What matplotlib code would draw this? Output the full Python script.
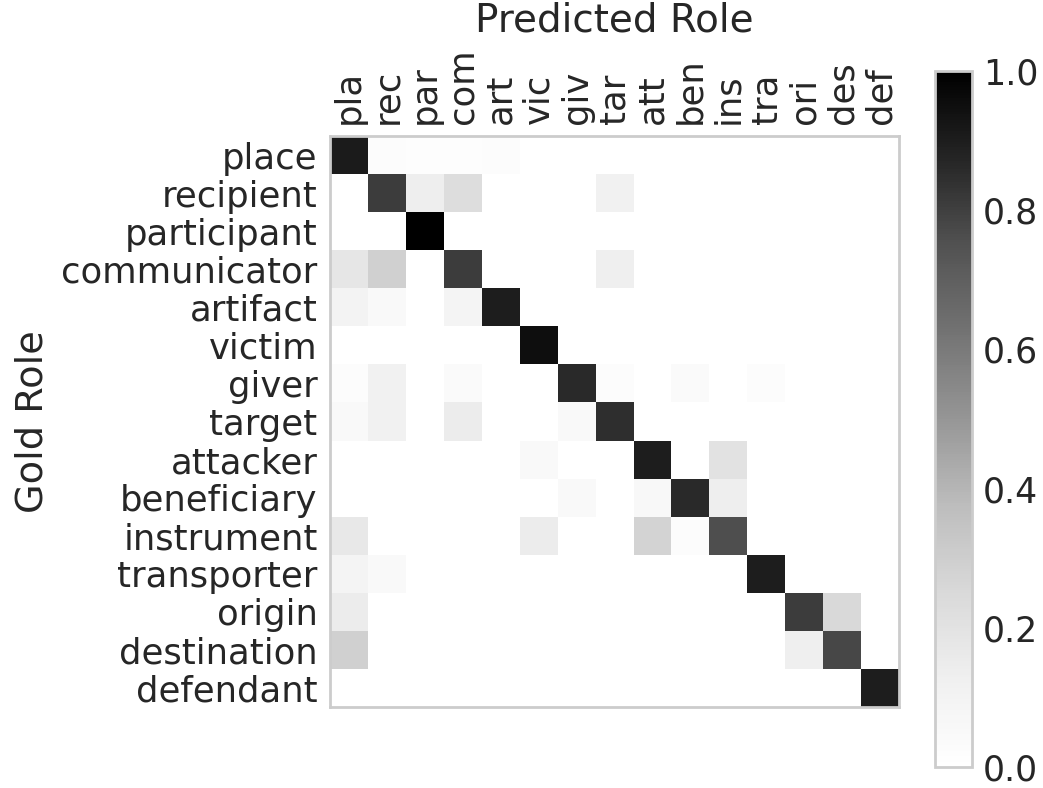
import numpy as np
import matplotlib
matplotlib.use("Agg")
import matplotlib.pyplot as plt

gold_roles = ["place", "recipient", "participant", "communicator", "artifact",
              "victim", "giver", "target", "attacker", "beneficiary",
              "instrument", "transporter", "origin", "destination", "defendant"]
pred_roles = ["pla", "rec", "par", "com", "art", "vic", "giv", "tar", "att",
              "ben", "ins", "tra", "ori", "des", "def"]

# one row per gold role, columns follow pred_roles
place        = [0.91, 0.03, 0.02, 0.02, 0.03, 0, 0, 0, 0, 0, 0, 0, 0, 0, 0]
recipient    = [0, 0.81, 0.14, 0.23, 0, 0, 0, 0.12, 0, 0, 0, 0, 0, 0, 0]
participant  = [0, 0, 1.0, 0, 0, 0, 0, 0, 0, 0, 0, 0, 0, 0, 0]
communicator = [0.18, 0.29, 0, 0.81, 0, 0, 0, 0.13, 0, 0, 0, 0, 0, 0, 0]
artifact     = [0.10, 0.05, 0, 0.09, 0.90, 0, 0, 0, 0, 0, 0, 0, 0, 0, 0]
victim       = [0, 0, 0, 0, 0, 0.95, 0, 0, 0, 0, 0, 0, 0, 0, 0]
giver        = [0.03, 0.12, 0, 0.04, 0, 0, 0.86, 0.03, 0, 0.04, 0, 0.03, 0, 0, 0]
target       = [0.05, 0.12, 0, 0.15, 0, 0, 0.05, 0.85, 0, 0, 0, 0, 0, 0, 0]
attacker     = [0, 0, 0, 0, 0, 0.05, 0, 0, 0.90, 0, 0.20, 0, 0, 0, 0]
beneficiary  = [0, 0, 0, 0, 0, 0, 0.05, 0, 0.06, 0.86, 0.14, 0, 0, 0, 0]
instrument   = [0.17, 0, 0, 0, 0, 0.15, 0, 0, 0.28, 0.03, 0.76, 0, 0, 0, 0]
transporter  = [0.09, 0.05, 0, 0, 0, 0, 0, 0, 0, 0, 0, 0.90, 0, 0, 0]
origin       = [0.15, 0, 0, 0, 0, 0, 0, 0, 0, 0, 0, 0, 0.81, 0.25, 0]
destination  = [0.29, 0, 0, 0, 0, 0, 0, 0, 0, 0, 0, 0, 0.13, 0.78, 0]
defendant    = [0, 0, 0, 0, 0, 0, 0, 0, 0, 0, 0, 0, 0, 0, 0.90]

matrix = np.array([place, recipient, participant, communicator, artifact,
                   victim, giver, target, attacker, beneficiary, instrument,
                   transporter, origin, destination, defendant])

text_color = "#262626"
plt.rcParams["font.family"] = ["DejaVu Sans"]

fig = plt.figure(figsize=(10.43, 7.88), dpi=100)
ax = fig.add_axes([0.3164, 0.1028, 0.5456, 0.7246])
cax = fig.add_axes([0.8965, 0.0267, 0.0355, 0.8832])

mesh = ax.pcolormesh(matrix, cmap="Greys", vmin=0, vmax=1)
ax.set_xlim(0, len(pred_roles))
ax.set_ylim(len(gold_roles), 0)

ax.xaxis.tick_top()
ax.xaxis.set_label_position("top")
ax.set_xticks(np.arange(len(pred_roles)) + 0.5)
ax.set_xticklabels(pred_roles, rotation=90, fontsize=25.5, color=text_color)
ax.set_yticks(np.arange(len(gold_roles)) + 0.5)
ax.set_yticklabels(gold_roles, fontsize=25.5, color=text_color)
ax.tick_params(length=0, pad=9)
ax.set_xlabel("Predicted Role", fontsize=28, color=text_color, labelpad=12)
ax.set_ylabel("Gold Role", fontsize=27.5, color=text_color, labelpad=8)
for s in ax.spines.values():
    s.set_color("#cccccc")
    s.set_linewidth(2)

cb = fig.colorbar(mesh, cax=cax)
cb.set_ticks([0.0, 0.2, 0.4, 0.6, 0.8, 1.0])
cb.ax.tick_params(length=0, pad=8, labelsize=25, labelcolor=text_color)
cb.outline.set_edgecolor("#cccccc")
cb.outline.set_linewidth(2)

fig.savefig("out.png", dpi=100)
